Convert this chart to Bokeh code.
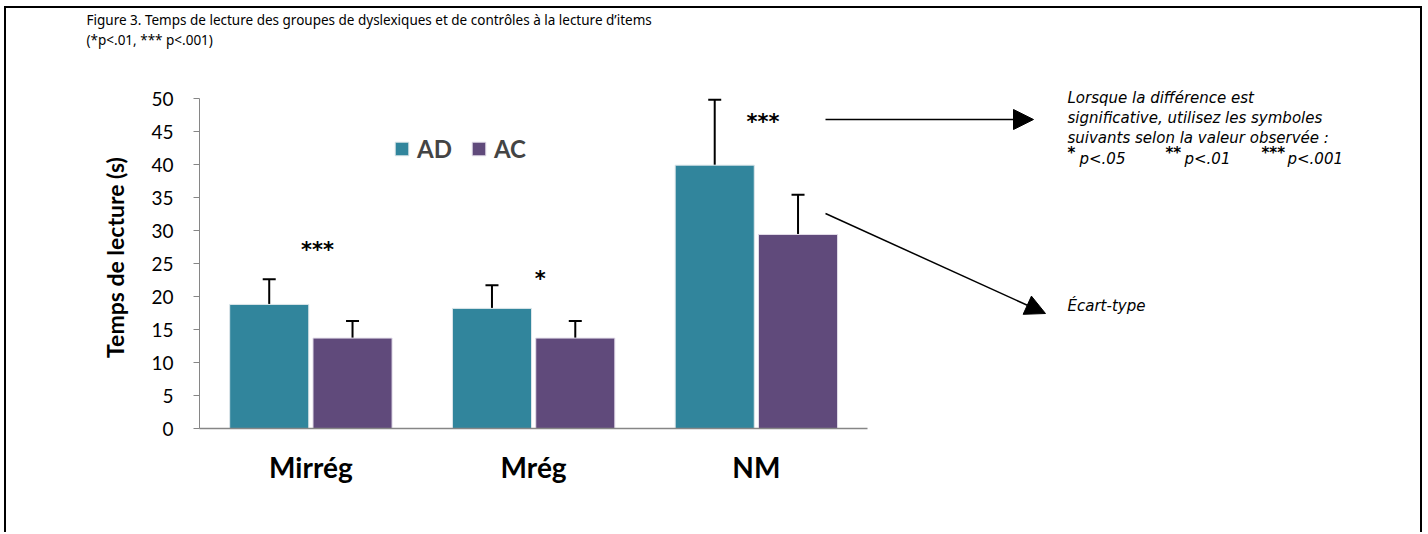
from bokeh.plotting import figure
from bokeh.models import (Range1d, FixedTicker, Whisker, TeeHead, Label, Arrow, Title,
                          NormalHead, Legend, LegendItem, ColumnDataSource)
from bokeh.core.properties import value
from bokeh.embed import file_html
from bokeh.resources import INLINE

# ---------------- data ----------------
categories = ["Mirrég", "Mrég", "NM"]
groups = ["AD", "AC"]
ad_means = [18.8, 18.2, 39.9]
ac_means = [13.7, 13.7, 29.4]
ad_sd = [3.8, 3.5, 9.9]
ac_sd = [2.6, 2.6, 6.0]
star_labels = ["***", "*", "***"]
star_heights = [27.0, 22.7, 46.4]
y_ticks = [0, 5, 10, 15, 20, 25, 30, 35, 40, 45, 50]
colors = ["#31859C", "#604A7B"]

title_lines = ["Figure 3. Temps de lecture des groupes de dyslexiques et de contrôles à la lecture d\u2019items",
               "(*p<.01, *** p<.001)"]
note_lines = ["Lorsque la différence est",
              "significative, utilisez les symboles",
              "suivants selon la valeur observée :"]
sig_stars = ["*", "**", "***"]
sig_texts = ["p<.05", "p<.01", "p<.001"]
sd_note = "Écart-type"

# ---------------- layout ----------------
W, H = 1418, 526
LEFT, TOP, BOTTOM = 193, 78, 106
FW, FH = W - LEFT, H - TOP - BOTTOM
PX_X = 222.75          # px per category
PX_Y = 6.6             # px per second
x0 = -0.5
x1 = x0 + FW / PX_X
y1 = FH / PX_Y


def cx(px):  # canvas x -> data x
    return x0 + (px - LEFT) / PX_X


def cy(py):  # canvas y -> data y
    return (TOP + FH - py) / PX_Y


p = figure(width=W, height=H, output_backend="svg", toolbar_location=None,
           x_range=Range1d(x0, x1), y_range=Range1d(0, y1),
           min_border_left=LEFT, min_border_right=0, min_border_top=TOP,
           min_border_bottom=BOTTOM)
p.margin = (6, 0, 0, 4)
p.outline_line_color = None
p.xgrid.visible = False
p.ygrid.visible = False
p.background_fill_color = "white"
p.border_fill_color = "white"
p.styles = {"border-top": "2px solid black", "border-left": "2px solid black",
            "border-right": "2px solid black"}

# title: spacer nearest the frame, then the two lines
TITLE_KW = dict(align="left", offset=-113, text_font="Noto Sans",
                text_font_size="13.5px", text_font_style="normal",
                text_color="black")
p.add_layout(Title(text=" ", standoff=18, **TITLE_KW), "above")
p.add_layout(Title(text=title_lines[1], standoff=0, **TITLE_KW), "above")
p.add_layout(Title(text=title_lines[0], standoff=0, **TITLE_KW), "above")

idx = list(range(len(categories)))
off = 0.187
bw = 0.355
x_ad = [i - off for i in idx]
x_ac = [i + off for i in idx]

r_ad = p.vbar(x=x_ad, top=ad_means, width=bw, bottom=0, fill_color=colors[0],
              line_color="#DDE6EA", line_width=1)
r_ac = p.vbar(x=x_ac, top=ac_means, width=bw, bottom=0, fill_color=colors[1],
              line_color="#E3DDEA", line_width=1)

for xs, m, s in ((x_ad, ad_means, ad_sd), (x_ac, ac_means, ac_sd)):
    src = ColumnDataSource(dict(x=xs, lower=m, upper=[a + b for a, b in zip(m, s)]))
    w = Whisker(base="x", lower="lower", upper="upper", source=src,
                lower_head=None,
                upper_head=TeeHead(size=13, line_width=2, line_color="black"),
                line_width=2, line_color="black")
    p.add_layout(w)

# significance stars
p.text(x=[i + 0.03 for i in idx], y=star_heights, text=star_labels,
       text_align="center", text_baseline="middle",
       text_font=value("DejaVu Sans"), text_font_size="21px",
       text_font_style="bold", text_color="black")

# axes
ya = p.yaxis[0]
ya.ticker = FixedTicker(ticks=y_ticks)
ya.bounds = (0, 50)
ya.axis_line_color = "#868686"
ya.major_tick_line_color = "#868686"
ya.major_tick_out = 6
ya.major_tick_in = 0
ya.minor_tick_line_color = None
ya.major_label_text_font = "Lato"
ya.major_label_text_font_size = "19px"
ya.major_label_text_color = "black"
ya.major_label_standoff = 20
ya.axis_label = "Temps de lecture (s)"
ya.axis_label_text_font = "Lato"
ya.axis_label_text_font_size = "23px"
ya.axis_label_text_font_style = "bold"
ya.axis_label_text_color = "black"
ya.axis_label_standoff = 19

xa = p.xaxis[0]
xa.ticker = FixedTicker(ticks=idx)
xa.major_label_overrides = {i: c for i, c in zip(idx, categories)}
xa.bounds = (-0.5, len(categories) - 0.5)
xa.axis_line_color = "#868686"
xa.axis_line_width = 1.5
xa.major_tick_out = 0
xa.major_tick_in = 0
xa.minor_tick_line_color = None
xa.major_label_text_font = "Lato"
xa.major_label_text_font_size = "28px"
xa.major_label_text_font_style = "bold"
xa.major_label_text_color = "black"
xa.major_label_standoff = 21

# legend
leg = Legend(items=[LegendItem(label=groups[0], renderers=[r_ad]),
                    LegendItem(label=groups[1], renderers=[r_ac])],
             orientation="horizontal", location=(194, 265),
             border_line_color=None, background_fill_alpha=0,
             label_text_font="Lato", label_text_font_size="24px",
             label_text_font_style="bold", glyph_width=17, glyph_height=17,
             spacing=18, padding=0, margin=0, label_standoff=7)
p.add_layout(leg)

# note text
NOTE_FONT = "DejaVu Sans"
NOTE_SIZE = "15px"
for k, t in enumerate(note_lines):
    p.add_layout(Label(x=cx(1061), y=cy(89 + 20 * k), text=t, text_font=NOTE_FONT,
                       text_font_style="italic", text_font_size=NOTE_SIZE,
                       text_baseline="middle", text_color="black"))
sig_x = [1061, 1159, 1255]
for sx, st, tx in zip(sig_x, sig_stars, sig_texts):
    p.add_layout(Label(x=cx(sx), y=cy(144), text=st, text_font=NOTE_FONT,
                       text_font_size=NOTE_SIZE, text_font_style="bold",
                       text_baseline="middle", text_color="black"))
    p.add_layout(Label(x=cx(sx + 7 * len(st) + 5), y=cy(150), text=tx,
                       text_font=NOTE_FONT, text_font_style="italic",
                       text_font_size=NOTE_SIZE, text_baseline="middle",
                       text_color="black"))
p.add_layout(Label(x=cx(1061), y=cy(297), text=sd_note, text_font=NOTE_FONT,
                   text_font_style="italic", text_font_size=NOTE_SIZE,
                   text_baseline="middle", text_color="black"))

# arrows
p.add_layout(Arrow(x_start=cx(819), y_start=cy(111), x_end=cx(1027), y_end=cy(111),
                   line_width=1.5, line_color="black",
                   end=NormalHead(size=20, fill_color="black", line_color="black")))
p.add_layout(Arrow(x_start=cx(819), y_start=cy(205), x_end=cx(1039), y_end=cy(305),
                   line_width=1.5, line_color="black",
                   end=NormalHead(size=20, fill_color="black", line_color="black")))

open("out.html", "w").write(file_html(p, INLINE))
